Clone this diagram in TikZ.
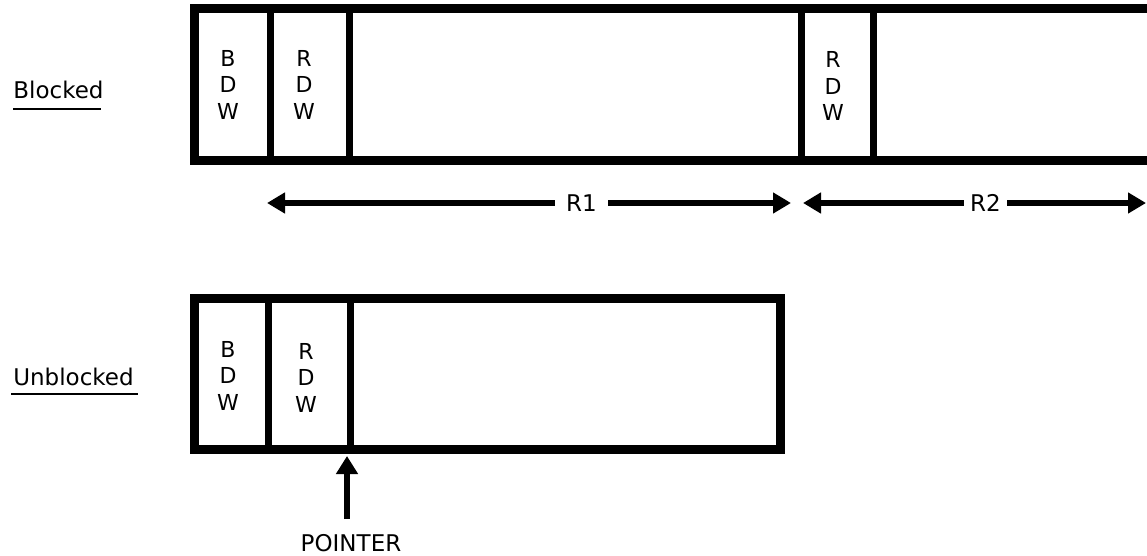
\documentclass[tikz,border=0pt]{standalone}
\usepackage{fontspec}
\setmainfont{DejaVu Sans}
\usetikzlibrary{arrows.meta}
\begin{document}
\begin{tikzpicture}[x=1pt,y=-1pt,
  frame/.style={line width=9pt},
  divider/.style={line width=7pt},
  field/.style={align=center,inner sep=0pt,font=\fontsize{22}{26.5}\selectfont},
  txt/.style={inner sep=0pt,font=\fontsize{23}{27}\selectfont},
  dim/.style={line width=5.5pt,{Triangle[length=18pt,width=20pt]}-{Triangle[length=18pt,width=20pt]}},
  ptr/.style={line width=5.5pt,-{Triangle[length=18pt,width=21pt]}},
  uline/.style={line width=2pt}]
\useasboundingbox (0,0) rectangle (1147,556);
\fill[white] (0,0) rectangle (1147,556);
\begin{scope}
\clip (0,0) rectangle (1147,556);
% Blocked record
\coordinate (btl) at (194.5,8.5);
\coordinate (bbr) at (1175,160.5);
\draw[frame] (btl) rectangle (bbr);
\foreach \x/\n in {270/a,349.5/b,801/c,873/d}{
  \coordinate (bt\n) at (\x,8.5);
  \coordinate (bb\n) at (\x,160.5);
  \draw[divider] (bt\n) -- (bb\n);
}
\node[field] (b-bdw) at (228,84.5) {B\\D\\W};
\node[field] (b-rdw1) at (304,84.5) {R\\D\\W};
\node[field] (b-rdw2) at (833,86) {R\\D\\W};
\node[txt,anchor=base] (lblocked) at (58.5,99) {Blocked};
\coordinate (ub1) at (13,109);
\coordinate (ub2) at (101,109);
\draw[uline] (ub1) -- (ub2);
% length arrows
\coordinate (r1l) at (267,203);
\coordinate (r1r) at (791,203);
\coordinate (r2l) at (803,203);
\coordinate (r2r) at (1146,203);
\draw[dim] (r1l) -- (r1r) node[pos=0.6,fill=white,txt,inner xsep=11pt,inner ysep=3pt] (r1) {R1};
\draw[dim] (r2l) -- (r2r) node[pos=0.532,fill=white,txt,inner xsep=6pt,inner ysep=3pt] (r2) {R2};
% Unblocked record
\coordinate (utl) at (194.5,298.5);
\coordinate (ubr) at (780,449.5);
\draw[frame] (utl) rectangle (ubr);
\foreach \x/\n in {268.5/a,350/b}{
  \coordinate (ut\n) at (\x,298.5);
  \coordinate (ubb\n) at (\x,449.5);
  \draw[divider] (ut\n) -- (ubb\n);
}
\node[field] (u-bdw) at (228,375.5) {B\\D\\W};
\node[field] (u-rdw) at (306,377.5) {R\\D\\W};
\node[txt,anchor=base] (lunblocked) at (73.5,385) {Unblocked};
\coordinate (uu1) at (11,394);
\coordinate (uu2) at (138,394);
\draw[uline] (uu1) -- (uu2);
% pointer
\coordinate (ptip) at (347,456);
\coordinate (pbase) at (347,519);
\draw[ptr] (pbase) -- (ptip);
\node[txt,anchor=base] (pointer) at (351,551) {POINTER};
\end{scope}
\end{tikzpicture}
\end{document}
